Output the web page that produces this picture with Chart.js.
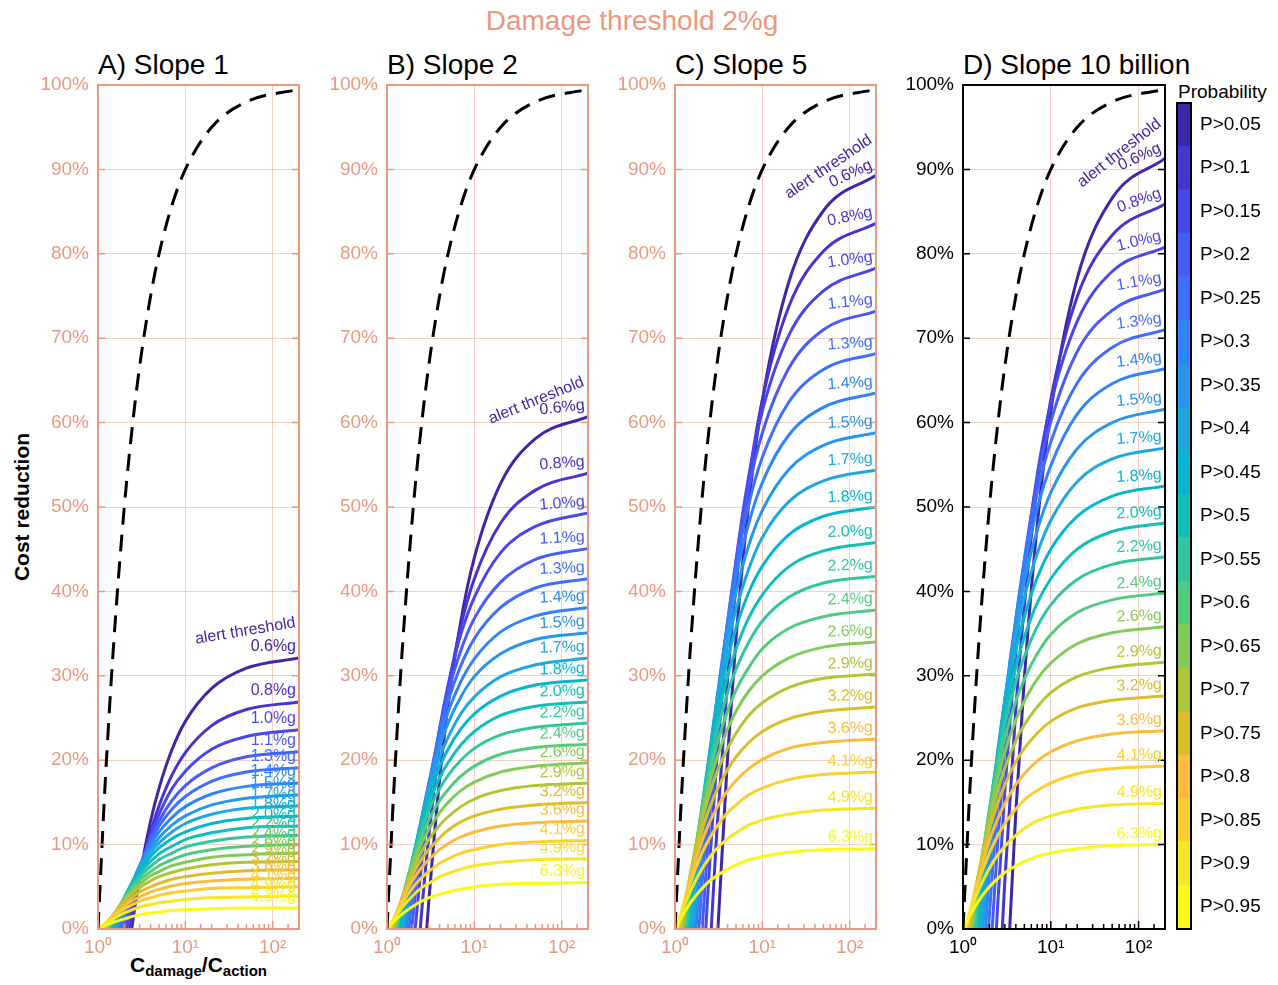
<!DOCTYPE html>
<html>
<head>
<meta charset="utf-8">
<script src="https://cdn.jsdelivr.net/npm/chart.js@4.4.1/dist/chart.umd.min.js"></script>
<style>
  body { margin: 0; background: #fff; font-family: "Liberation Sans", Arial, sans-serif; }
  #page { position: relative; width: 1278px; height: 985px; overflow: hidden; }
  canvas { position: absolute; }
  .txt { position: absolute; white-space: nowrap; }
  #main-title { left: 0; width: 1264px; top: 5px; text-align: center; font-size: 28px; line-height: 32px; color: #eb9880; }
  .ptitle { top: 49px; font-size: 28px; line-height: 32px; color: #000; }
  #ytitle { left: -78px; top: 495px; width: 200px; height: 24px; line-height: 24px; text-align: center; font-size: 21px; font-weight: bold; transform: rotate(-90deg); }
  #xtitle { left: 98px; width: 201px; top: 953px; text-align: center; font-size: 21px; font-weight: bold; line-height: 24px; }
  #xtitle sub { font-size: 15px; vertical-align: -4px; }
  #cbtitle { left: 1178px; top: 81px; font-size: 19px; line-height: 22px; }
</style>
</head>
<body>
<div id="page">
  <div class="txt" id="main-title">Damage threshold 2%g</div>
  <div class="txt ptitle" style="left:98px">A) Slope 1</div>
  <div class="txt ptitle" style="left:387px">B) Slope 2</div>
  <div class="txt ptitle" style="left:675px">C) Slope 5</div>
  <div class="txt ptitle" style="left:963px">D) Slope 10 billion</div>
  <div class="txt" id="ytitle">Cost reduction</div>
  <div class="txt" id="xtitle">C<sub>damage</sub>/C<sub>action</sub></div>
  <div class="txt" id="cbtitle">Probability</div>
  <canvas id="panel-a" width="281" height="930" style="left:28px;top:40px"></canvas>
  <canvas id="panel-b" width="281" height="930" style="left:317px;top:40px"></canvas>
  <canvas id="panel-c" width="281" height="930" style="left:605px;top:40px"></canvas>
  <canvas id="panel-d" width="282" height="930" style="left:893px;top:40px"></canvas>
  <canvas id="colorbar" width="108" height="870" style="left:1170px;top:80px"></canvas>
</div>
<script>
// cost ratio grid shared by all probability curves
const xGrid = [1.2, 1.5, 2, 2.5, 3, 4, 5, 7, 10, 20, 50, 200];

// perfect forecast (dashed)
const perfectX = [1, 1.2, 1.5, 2, 2.5, 3, 4, 5, 7, 10, 20, 50, 200];
const perfectY = [0, 16.7, 33.3, 50, 60, 66.7, 75, 80, 85.7, 90, 95, 98, 99.5];

const probLabels = ["P>0.05", "P>0.1", "P>0.15", "P>0.2", "P>0.25", "P>0.3", "P>0.35", "P>0.4", "P>0.45", "P>0.5",
  "P>0.55", "P>0.6", "P>0.65", "P>0.7", "P>0.75", "P>0.8", "P>0.85", "P>0.9", "P>0.95"];
const thresholdLabels = ["0.6%g", "0.8%g", "1.0%g", "1.1%g", "1.3%g", "1.4%g", "1.5%g", "1.7%g", "1.8%g", "2.0%g",
  "2.2%g", "2.4%g", "2.6%g", "2.9%g", "3.2%g", "3.6%g", "4.1%g", "4.9%g", "6.3%g"];
const probColors = ["#3e26a8", "#4435d0", "#4747eb", "#475bf9", "#3e6fff", "#2e84f8", "#2796eb", "#1ea7e1", "#08b5d0", "#12beb9",
  "#31c69f", "#51cc7f", "#81cc59", "#b2c635", "#dcbd29", "#fbbc3d", "#fccf30", "#f5e626", "#f9fb15"];

// ratio where each curve leaves 0%
const slope1Start = [2.43, 2.31, 2.14, 1.98, 1.84, 1.72, 1.62, 1.53, 1.46, 1.4, 1.34, 1.28, 1.23, 1.18, 1.14, 1.1, 1.06, 1.03, 1.01];
const slope2Start = [2.85, 2.4, 2.1, 1.92, 1.78, 1.66, 1.56, 1.48, 1.42, 1.36, 1.3, 1.25, 1.21, 1.17, 1.13, 1.09, 1.06, 1.03, 1.01];
const slope5Start = [3.1, 2.6, 2.25, 2.05, 1.88, 1.74, 1.63, 1.54, 1.46, 1.4, 1.34, 1.28, 1.23, 1.18, 1.14, 1.1, 1.06, 1.03, 1.01];
const slopeBigStart = [3.4, 2.8, 2.4, 2.15, 1.95, 1.8, 1.68, 1.58, 1.5, 1.43, 1.36, 1.3, 1.25, 1.2, 1.15, 1.11, 1.07, 1.04, 1.01];

// cost reduction (%) on xGrid, null = still at 0
const slope1Values = [
  [null, null, null, 0.9, 6.2, 12.8, 16.7, 21.2, 24.6, 28.5, 30.9, 32.1],
  [null, null, null, 2.1, 6.3, 11.5, 14.6, 18.2, 20.9, 24.1, 26.0, 26.9],
  [null, null, null, 3.4, 6.8, 11.1, 13.6, 16.6, 18.7, 21.3, 22.8, 23.6],
  [null, null, 0.2, 4.4, 7.2, 10.7, 12.8, 15.2, 17.0, 19.1, 20.4, 21.0],
  [null, null, 1.5, 5.1, 7.4, 10.4, 12.2, 14.2, 15.7, 17.5, 18.6, 19.1],
  [null, null, 2.5, 5.5, 7.5, 10.0, 11.5, 13.2, 14.5, 16.0, 16.9, 17.3],
  [null, null, 3.0, 5.6, 7.4, 9.5, 10.8, 12.3, 13.4, 14.7, 15.5, 15.9],
  [null, null, 3.5, 5.7, 7.2, 9.1, 10.2, 11.5, 12.5, 13.6, 14.3, 14.6],
  [null, 0.4, 3.7, 5.6, 6.9, 8.6, 9.6, 10.7, 11.5, 12.5, 13.1, 13.4],
  [null, 0.8, 3.7, 5.4, 6.6, 8.0, 8.9, 9.8, 10.6, 11.4, 12.0, 12.2],
  [null, 1.2, 3.7, 5.2, 6.2, 7.4, 8.2, 9.0, 9.7, 10.4, 10.9, 11.1],
  [null, 1.5, 3.6, 4.9, 5.8, 6.8, 7.5, 8.2, 8.8, 9.4, 9.8, 10.0],
  [null, 1.6, 3.5, 4.6, 5.3, 6.3, 6.8, 7.5, 7.9, 8.5, 8.8, 9.0],
  [0.1, 1.7, 3.3, 4.3, 4.9, 5.7, 6.2, 6.7, 7.1, 7.6, 7.9, 8.0],
  [0.4, 1.7, 3.0, 3.8, 4.4, 5.0, 5.4, 5.9, 6.2, 6.6, 6.9, 7.0],
  [0.5, 1.6, 2.7, 3.4, 3.8, 4.4, 4.7, 5.1, 5.4, 5.7, 5.9, 6.0],
  [0.6, 1.5, 2.4, 2.9, 3.3, 3.7, 4.0, 4.3, 4.5, 4.8, 4.9, 5.0],
  [0.6, 1.2, 1.9, 2.3, 2.6, 2.9, 3.1, 3.3, 3.5, 3.7, 3.8, 3.9],
  [0.4, 0.8, 1.2, 1.5, 1.7, 1.9, 2.0, 2.2, 2.3, 2.4, 2.5, 2.5]
];
const slope2Values = [
  [null, null, null, null, 3.1, 17.7, 26.5, 36.5, 44.0, 52.8, 58.1, 60.7],
  [null, null, null, 2.2, 10.9, 21.8, 28.4, 35.9, 41.5, 48.1, 52.0, 54.0],
  [null, null, null, 8.0, 14.9, 23.7, 28.9, 34.9, 39.3, 44.6, 47.7, 49.3],
  [null, null, 1.8, 10.5, 16.4, 23.7, 28.0, 33.0, 36.8, 41.1, 43.8, 45.1],
  [null, null, 4.6, 12.1, 17.0, 23.2, 27.0, 31.2, 34.4, 38.1, 40.4, 41.5],
  [null, null, 6.5, 12.9, 17.2, 22.5, 25.7, 29.3, 32.0, 35.2, 37.1, 38.1],
  [null, null, 7.8, 13.3, 17.0, 21.6, 24.4, 27.5, 29.9, 32.6, 34.3, 35.1],
  [null, 0.4, 8.4, 13.1, 16.3, 20.3, 22.7, 25.5, 27.5, 29.9, 31.3, 32.1],
  [null, 1.6, 8.6, 12.8, 15.6, 19.2, 21.3, 23.7, 25.5, 27.6, 28.9, 29.5],
  [null, 2.6, 8.7, 12.4, 14.8, 17.9, 19.7, 21.8, 23.4, 25.3, 26.4, 26.9],
  [null, 3.3, 8.6, 11.8, 14.0, 16.6, 18.2, 20.0, 21.4, 23.0, 23.9, 24.4],
  [null, 3.7, 8.3, 11.0, 12.9, 15.2, 16.5, 18.1, 19.3, 20.7, 21.5, 21.9],
  [null, 3.8, 7.8, 10.2, 11.8, 13.8, 15.0, 16.4, 17.4, 18.6, 19.3, 19.7],
  [0.4, 3.8, 7.2, 9.2, 10.6, 12.3, 13.3, 14.5, 15.4, 16.4, 17.0, 17.3],
  [0.9, 3.8, 6.6, 8.3, 9.4, 10.8, 11.7, 12.7, 13.4, 14.2, 14.7, 15.0],
  [1.2, 3.6, 5.9, 7.3, 8.2, 9.4, 10.1, 10.9, 11.5, 12.2, 12.6, 12.8],
  [1.2, 3.1, 5.0, 6.1, 6.8, 7.8, 8.3, 9.0, 9.4, 10.0, 10.3, 10.5],
  [1.2, 2.6, 4.0, 4.9, 5.4, 6.2, 6.6, 7.1, 7.5, 7.9, 8.2, 8.3],
  [0.9, 1.8, 2.7, 3.3, 3.7, 4.1, 4.4, 4.7, 5.0, 5.3, 5.4, 5.5]
];
const slope5Values = [
  [null, null, null, null, null, 20.4, 34.5, 50.5, 62.6, 76.6, 85.1, 89.3],
  [null, null, null, null, 11.3, 29.6, 40.7, 53.2, 62.7, 73.7, 80.3, 83.6],
  [null, null, null, 7.9, 19.8, 34.6, 43.6, 53.7, 61.4, 70.3, 75.6, 78.3],
  [null, null, null, 13.4, 23.5, 36.1, 43.7, 52.3, 58.8, 66.4, 71.0, 73.2],
  [null, null, 4.2, 17.1, 25.7, 36.5, 43.0, 50.4, 55.9, 62.4, 66.3, 68.2],
  [null, null, 8.3, 19.5, 26.9, 36.2, 41.8, 48.1, 52.9, 58.5, 61.8, 63.5],
  [null, null, 11.0, 20.6, 27.1, 35.1, 39.9, 45.5, 49.6, 54.4, 57.3, 58.8],
  [null, null, 12.6, 21.0, 26.7, 33.7, 37.9, 42.7, 46.4, 50.6, 53.1, 54.4],
  [null, 1.4, 13.6, 21.0, 25.9, 32.0, 35.7, 39.9, 43.0, 46.7, 48.9, 50.0],
  [null, 3.0, 13.8, 20.3, 24.6, 30.0, 33.2, 36.9, 39.6, 42.9, 44.8, 45.8],
  [null, 4.5, 13.9, 19.5, 23.3, 28.0, 30.8, 34.0, 36.5, 39.3, 41.0, 41.8],
  [null, 5.5, 13.7, 18.5, 21.8, 25.8, 28.3, 31.0, 33.2, 35.6, 37.0, 37.8],
  [null, 6.1, 13.2, 17.4, 20.2, 23.7, 25.8, 28.2, 30.0, 32.1, 33.4, 34.0],
  [0.6, 6.5, 12.5, 16.1, 18.5, 21.4, 23.2, 25.3, 26.8, 28.6, 29.7, 30.2],
  [1.3, 6.3, 11.4, 14.4, 16.4, 18.9, 20.4, 22.1, 23.4, 24.9, 25.8, 26.3],
  [1.9, 6.0, 10.2, 12.7, 14.3, 16.4, 17.6, 19.0, 20.1, 21.4, 22.1, 22.5],
  [2.2, 5.5, 8.8, 10.8, 12.1, 13.8, 14.7, 15.9, 16.7, 17.7, 18.3, 18.6],
  [2.1, 4.5, 7.0, 8.5, 9.5, 10.7, 11.4, 12.3, 12.9, 13.6, 14.1, 14.3],
  [1.5, 3.1, 4.7, 5.7, 6.3, 7.1, 7.6, 8.2, 8.6, 9.1, 9.4, 9.5]
];
const slopeBigValues = [
  [null, null, null, null, null, 13.9, 29.7, 47.8, 61.3, 77.1, 86.6, 91.3],
  [null, null, null, null, 5.8, 26.1, 38.3, 52.3, 62.7, 74.9, 82.2, 85.9],
  [null, null, null, 3.3, 16.4, 32.7, 42.5, 53.8, 62.2, 72.0, 77.9, 80.8],
  [null, null, null, 10.7, 21.7, 35.4, 43.7, 53.1, 60.1, 68.4, 73.3, 75.8],
  [null, null, 1.8, 15.8, 25.1, 36.7, 43.7, 51.7, 57.7, 64.7, 68.9, 71.0],
  [null, null, 6.7, 18.8, 26.8, 36.8, 42.9, 49.8, 54.9, 61.0, 64.6, 66.4],
  [null, null, 9.9, 20.3, 27.3, 36.0, 41.2, 47.2, 51.7, 56.9, 60.0, 61.6],
  [null, null, 12.1, 21.2, 27.2, 34.8, 39.3, 44.5, 48.4, 53.0, 55.7, 57.0],
  [null, null, 13.2, 21.2, 26.4, 33.1, 37.0, 41.6, 45.0, 48.9, 51.3, 52.5],
  [null, 2.3, 13.8, 20.7, 25.4, 31.1, 34.6, 38.6, 41.5, 45.0, 47.1, 48.1],
  [null, 4.1, 14.2, 20.2, 24.3, 29.3, 32.3, 35.8, 38.4, 41.4, 43.2, 44.1],
  [null, 5.3, 14.0, 19.2, 22.7, 27.0, 29.6, 32.6, 34.9, 37.5, 39.0, 39.8],
  [null, 6.0, 13.5, 18.0, 21.0, 24.8, 27.0, 29.6, 31.5, 33.8, 35.1, 35.8],
  [null, 6.4, 12.7, 16.5, 19.1, 22.3, 24.2, 26.3, 28.0, 29.9, 31.0, 31.6],
  [1.2, 6.5, 11.8, 15.0, 17.1, 19.8, 21.4, 23.2, 24.6, 26.2, 27.1, 27.6],
  [1.8, 6.1, 10.5, 13.1, 14.9, 17.1, 18.4, 19.9, 21.0, 22.3, 23.1, 23.5],
  [2.1, 5.6, 9.0, 11.1, 12.5, 14.2, 15.3, 16.4, 17.3, 18.4, 19.0, 19.3],
  [2.0, 4.6, 7.2, 8.8, 9.8, 11.1, 11.9, 12.8, 13.4, 14.2, 14.7, 14.9],
  [1.6, 3.3, 5.0, 6.0, 6.7, 7.5, 8.0, 8.6, 9.0, 9.5, 9.9, 10.0]
];

const SALMON = "#eb9880";
const FONT = '"Liberation Sans", Arial, sans-serif';
const SUP = { 0: "\u2070", 1: "\u00b9", 2: "\u00b2" };

function isDecade(v) {
  const lg = Math.log10(v);
  return Math.abs(lg - Math.round(lg)) < 1e-9;
}

function buildPanel(id, start, values, look) {
  const datasets = [{
    data: perfectX.map((x, i) => ({ x: x, y: perfectY[i] })),
    borderColor: "#000",
    borderWidth: 3,
    borderDash: [17, 10],
    pointRadius: 0,
    cubicInterpolationMode: "monotone"
  }];
  // yellow drawn over blue, dashed over everything
  for (let k = values.length - 1; k >= 0; k--) {
    const pts = [{ x: start[k], y: 0 }];
    values[k].forEach((v, i) => {
      if (v !== null) pts.push({ x: xGrid[i], y: v });
    });
    datasets.push({
      data: pts,
      borderColor: probColors[k],
      borderWidth: 3,
      pointRadius: 0,
      cubicInterpolationMode: "monotone"
    });
  }

  const decor = {
    id: "decor",
    afterDraw(chart) {
      const { ctx, chartArea: a, scales } = chart;
      const xs = scales.x, ys = scales.y;
      ctx.save();
      ctx.strokeStyle = look.frame;
      ctx.lineWidth = 1.5;
      ctx.beginPath();
      for (let v = 10; v < 100; v += 10) {
        const py = ys.getPixelForValue(v);
        ctx.moveTo(a.left, py); ctx.lineTo(a.left + 7, py);
        ctx.moveTo(a.right - 7, py); ctx.lineTo(a.right, py);
      }
      xs.ticks.forEach(t => {
        if (t.value <= 1 || t.value >= 200) return;
        const px = xs.getPixelForValue(t.value);
        const len = isDecade(t.value) ? 8 : 5;
        ctx.moveTo(px, a.bottom); ctx.lineTo(px, a.bottom - len);
      });
      ctx.stroke();
      ctx.lineWidth = 2;
      ctx.strokeRect(a.left, a.top, a.right - a.left, a.bottom - a.top);

      ctx.font = "16px " + FONT;
      ctx.textAlign = "right";
      ctx.textBaseline = "alphabetic";
      values.forEach((vals, k) => {
        const py = ys.getPixelForValue(vals[vals.length - 1]) - 7;
        ctx.fillStyle = probColors[k];
        ctx.save();
        ctx.translate(a.right - 3, py);
        ctx.rotate(-look.angles[k] * Math.PI / 180);
        ctx.fillText(thresholdLabels[k], 0, 0);
        ctx.restore();
        if (k === 0) {
          ctx.save();
          ctx.translate(a.right - 3, py - look.alertGap);
          ctx.rotate(-look.alertAngle * Math.PI / 180);
          ctx.fillText("alert threshold", 0, 0);
          ctx.restore();
        }
      });
      ctx.restore();
    }
  };

  return new Chart(document.getElementById(id), {
    type: "line",
    data: { datasets: datasets },
    options: {
      responsive: false,
      animation: false,
      layout: { padding: { left: 0, right: 10, top: 45, bottom: 6 } },
      plugins: { legend: { display: false }, tooltip: { enabled: false } },
      scales: {
        x: {
          type: "logarithmic",
          min: 1,
          max: 200,
          afterFit(s) { s.height = 35; },
          border: { display: false },
          grid: {
            drawTicks: false,
            lineWidth: 1,
            color: c => (c.tick && c.tick.value > 1 && c.tick.value < 200 && isDecade(c.tick.value)) ? look.grid : "rgba(0,0,0,0)"
          },
          ticks: {
            autoSkip: false,
            maxRotation: 0,
            padding: 7,
            color: look.text,
            font: { family: FONT, size: 19 },
            callback: v => isDecade(v) ? "10" + SUP[Math.round(Math.log10(v))] : ""
          }
        },
        y: {
          min: 0,
          max: 100,
          afterFit(s) { s.width = 70; },
          border: { display: false },
          grid: {
            drawTicks: false,
            lineWidth: 1,
            color: c => (c.tick && c.tick.value > 0 && c.tick.value < 100) ? look.grid : "rgba(0,0,0,0)"
          },
          ticks: {
            stepSize: 10,
            padding: 9,
            color: look.text,
            font: { family: FONT, size: 19 },
            callback: v => v + "%"
          }
        }
      }
    },
    plugins: [decor]
  });
}

const grid = "rgba(232,150,122,0.45)";
buildPanel("panel-a", slope1Start, slope1Values, {
  frame: SALMON, text: SALMON, grid: grid, alertAngle: 9.5, alertGap: 24,
  angles: [0, 0, 0, 0, 0, 0, 0, 0, 0, 0, 0, 0, 0, 0, 0, 0, 0, 0, 0]
});
buildPanel("panel-b", slope2Start, slope2Values, {
  frame: SALMON, text: SALMON, grid: grid, alertAngle: 22, alertGap: 24,
  angles: [6, 4, 5, 3, 3, 3, 3, 2, 2, 2, 2, 2, 2, 2, 1, 1, 1, 1, 0]
});
buildPanel("panel-c", slope5Start, slope5Values, {
  frame: SALMON, text: SALMON, grid: grid, alertAngle: 34, alertGap: 26,
  angles: [25, 12, 8, 6, 4, 4, 3, 3, 3, 2, 2, 2, 2, 2, 1, 1, 1, 1, 0]
});
buildPanel("panel-d", slopeBigStart, slopeBigValues, {
  frame: "#000", text: "#000", grid: grid, alertAngle: 38, alertGap: 26,
  angles: [25, 20, 14, 10, 8, 7, 5, 4, 4, 3, 3, 3, 2, 2, 2, 2, 1, 1, 1]
});

// colour bar
const barFrame = {
  id: "barFrame",
  afterDraw(chart) {
    const { ctx, chartArea: a } = chart;
    ctx.save();
    ctx.strokeStyle = "#000";
    ctx.lineWidth = 2;
    ctx.strokeRect(a.left, a.top, a.right - a.left, a.bottom - a.top);
    ctx.restore();
  }
};
new Chart(document.getElementById("colorbar"), {
  type: "bar",
  data: {
    labels: probLabels,
    datasets: [{
      data: probLabels.map(() => 1),
      backgroundColor: probColors,
      borderWidth: 0,
      barPercentage: 1,
      categoryPercentage: 1
    }]
  },
  options: {
    indexAxis: "y",
    responsive: false,
    animation: false,
    layout: { padding: { left: 7, right: 0, top: 23, bottom: 21 } },
    plugins: { legend: { display: false }, tooltip: { enabled: false } },
    scales: {
      x: { display: false, min: 0, max: 1 },
      y: {
        position: "right",
        z: 1,
        afterFit(s) { s.width = 87; },
        border: { display: false },
        grid: { offset: true, drawTicks: false, color: "rgba(200,110,120,0.75)", lineWidth: 1 },
        ticks: { color: "#000", padding: 9, font: { family: FONT, size: 19 } }
      }
    }
  },
  plugins: [barFrame]
});
</script>
</body>
</html>
